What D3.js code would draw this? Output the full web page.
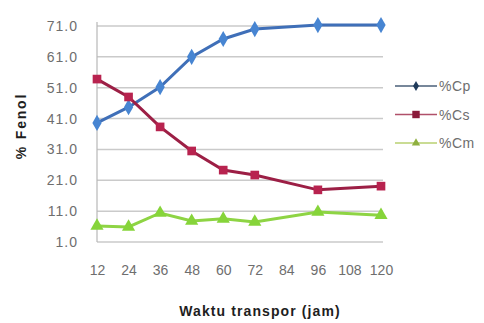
<!DOCTYPE html>
<html>
<head>
<meta charset="utf-8">
<script src="https://cdn.jsdelivr.net/npm/d3@7"></script>
<style>
  html, body { margin: 0; padding: 0; background: #fff; }
  svg { display: block; }
</style>
</head>
<body>
<svg id="chart" width="484" height="323"></svg>
<script>
// Transport time (hours) and phenol fractions
const hours = [12, 24, 36, 48, 60, 72, 96, 120];
const xTicks = [12, 24, 36, 48, 60, 72, 84, 96, 108, 120];
const yTicks = [1, 11, 21, 31, 41, 51, 61, 71];
const cp = [39.6, 44.7, 51.2, 61.0, 66.8, 70.0, 71.3, 71.3];
const cs = [53.8, 48.0, 38.3, 30.5, 24.3, 22.7, 17.9, 19.1];
const cm = [6.2, 5.9, 10.4, 7.8, 8.5, 7.5, 10.7, 9.7];

const series = [
  { name: "%Cp", values: cp, color: "#4785d2", lineColor: "#3f6fb8", legendLine: "#4a5f78", legendMark: "#1f3a5a", symbol: d3.symbolDiamond, size: 75, legendSize: 30 },
  { name: "%Cs", values: cs, color: "#b8234f", lineColor: "#9c1f45", legendLine: "#b0506a", legendMark: "#8a1a3a", symbol: d3.symbolSquare, size: 75, legendSize: 55 },
  { name: "%Cm", values: cm, color: "#86d43a", lineColor: "#8ed444", legendLine: "#b8d070", legendMark: "#8fb040", symbol: d3.symbolTriangle, size: 75, legendSize: 30 }
];

const FONT = "Arial, 'Liberation Sans', sans-serif";
const svg = d3.select("#chart");
const plotLeft = 97, plotRight = 381, plotTop = 26, plotBottom = 242;

const x = d3.scaleLinear().domain([12, 120]).range([plotLeft, plotRight]);
const y = d3.scaleLinear().domain([1, 71]).range([plotBottom, plotTop]);

// Horizontal gridlines
svg.append("g")
  .selectAll("line")
  .data(yTicks)
  .join("line")
  .attr("x1", plotLeft).attr("x2", plotRight + 2)
  .attr("y1", d => y(d)).attr("y2", d => y(d))
  .attr("stroke", "#cacaca").attr("stroke-width", 1.5);

// Vertical axis line
svg.append("line")
  .attr("x1", plotLeft).attr("x2", plotLeft)
  .attr("y1", plotTop - 4).attr("y2", plotBottom)
  .attr("stroke", "#b8b8b8").attr("stroke-width", 1.2);

// Y axis tick labels
const yAxis = d3.axisLeft(y).tickValues(yTicks).tickFormat(d3.format(".1f")).tickSize(0).tickPadding(19);
const gy = svg.append("g").attr("transform", `translate(${plotLeft},0)`).call(yAxis);
gy.select(".domain").remove();
gy.selectAll("text")
  .attr("font-family", FONT)
  .attr("font-size", 14).attr("letter-spacing", 1).attr("fill", "#6e6e6e");

// X axis tick labels
const xAxis = d3.axisBottom(x).tickValues(xTicks).tickSize(0).tickPadding(23);
const gx = svg.append("g").attr("transform", `translate(0,${plotBottom})`).call(xAxis);
gx.select(".domain").remove();
gx.selectAll("text")
  .attr("font-family", FONT)
  .attr("font-size", 14).attr("fill", "#6e6e6e");

// Lines and markers
const line = d3.line().x((d, i) => x(hours[i])).y(d => y(d));
series.forEach(s => {
  svg.append("path")
    .datum(s.values)
    .attr("d", line)
    .attr("fill", "none")
    .attr("stroke", s.lineColor)
    .attr("stroke-width", 3);
  svg.append("g")
    .selectAll("path")
    .data(s.values)
    .join("path")
    .attr("transform", (d, i) => `translate(${x(hours[i])},${y(d)})`)
    .attr("d", d3.symbol().type(s.symbol).size(s.size))
    .attr("fill", s.color);
});

// Legend
const legend = svg.append("g").attr("transform", "translate(395,86)");
series.forEach((s, i) => {
  const g = legend.append("g").attr("transform", `translate(0,${i * 28.5})`);
  g.append("line").attr("x1", 0).attr("x2", 42).attr("y1", 0).attr("y2", 0)
    .attr("stroke", s.legendLine).attr("stroke-width", 1.6);
  g.append("path").attr("transform", "translate(21,0)")
    .attr("d", d3.symbol().type(s.symbol).size(s.legendSize))
    .attr("fill", s.legendMark);
  g.append("text").attr("x", 44).attr("y", 5)
    .attr("font-family", FONT)
    .attr("font-size", 14).attr("letter-spacing", 0.5).attr("fill", "#6e6e6e")
    .text(s.name);
});

// Axis titles
svg.append("text")
  .attr("transform", "translate(26,126) rotate(-90)")
  .attr("text-anchor", "middle")
  .attr("font-family", FONT)
  .attr("font-size", 14).attr("font-weight", "bold").attr("letter-spacing", 1.8).attr("fill", "#1e1e1e")
  .text("% Fenol");

svg.append("text")
  .attr("x", 260).attr("y", 316)
  .attr("text-anchor", "middle")
  .attr("font-family", FONT)
  .attr("font-size", 14).attr("font-weight", "bold").attr("letter-spacing", 1.1).attr("fill", "#1e1e1e")
  .text("Waktu transpor (jam)");
</script>
</body>
</html>
